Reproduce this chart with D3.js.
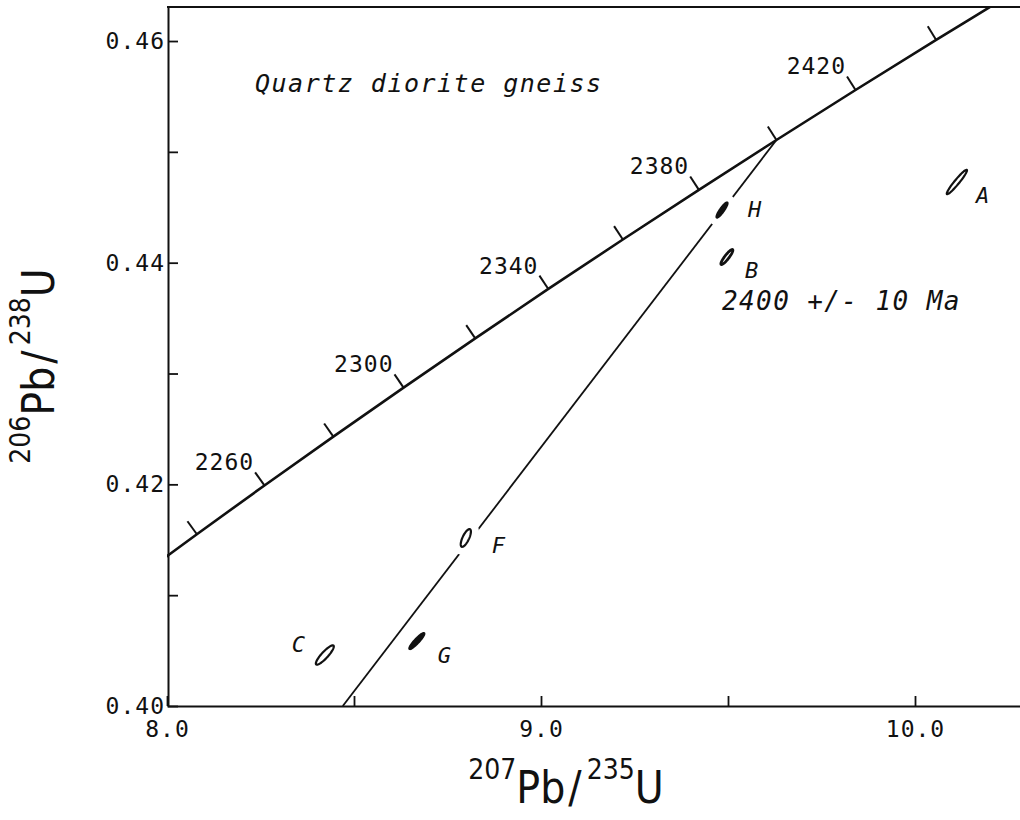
<!DOCTYPE html>
<html>
<head>
<meta charset="utf-8">
<script src="https://cdn.jsdelivr.net/npm/d3@7"></script>
<style>
  body { margin: 0; background: #fff; }
  .mono { font-family: "DejaVu Sans Mono", "Liberation Mono", monospace; }
  .narrow { font-family: "Liberation Sans Narrow", "DejaVu Sans Condensed", "Arial Narrow", "Liberation Sans", sans-serif; font-stretch: condensed; }
</style>
</head>
<body>
<div id="chart"></div>
<script>
// concordia: age (Ma) and the two ratios at that age
const concAge = [2220, 2240, 2260, 2280, 2300, 2320, 2340, 2360, 2380, 2400, 2420, 2440, 2460];
const concX = [7.9028, 8.0799, 8.2605, 8.4448, 8.6326, 8.8242, 9.0196, 9.2189, 9.4222, 9.6295, 9.8410, 10.0566, 10.2766];
const concY = [0.41111, 0.41550, 0.41990, 0.42431, 0.42873, 0.43317, 0.43763, 0.44209, 0.44657, 0.45107, 0.45558, 0.46010, 0.46464];
const concLabels = [2260, 2300, 2340, 2380, 2420];

// discordia (upper intercept -> bottom of the plot)
const discX = [9.6295, 8.470];
const discY = [0.45107, 0.400];

// zircon fractions, error ellipses
const fracName = ["A", "B", "C", "F", "G", "H"];
const fracX = [10.112, 9.497, 8.422, 8.799, 8.668, 9.484];
const fracY = [0.44728, 0.44051, 0.40460, 0.41516, 0.40586, 0.44475];
const fracSx = [0.027, 0.016, 0.024, 0.0136, 0.020, 0.0147];
const fracSy = [0.0011, 0.00068, 0.00087, 0.00080, 0.00072, 0.00068];
const fracRho = [0.955, 0.90, 0.88, 0.72, 0.92, 0.90];

const xTicks = [8.0, 9.0, 10.0];
const xMinor = [8.5, 9.5];
const yTicks = [0.40, 0.42, 0.44, 0.46];
const yMinor = [0.41, 0.43, 0.45];

const titleText = "Quartz diorite gneiss";
const ageText = "2400 +/- 10 Ma";

// ---------------------------------------------------------------
const W = 1020, H = 820;
const margin = {top: 7, left: 167, bottom: 114};

const svg = d3.select("#chart").append("svg")
  .attr("width", W).attr("height", H);

const x = d3.scaleLinear().domain([8.0, 10.3]).range([margin.left, margin.left + 2.3 * 374]);
const y = d3.scaleLinear().domain([0.40, 0.46307]).range([H - margin.bottom, margin.top]);

svg.append("defs").append("clipPath").attr("id", "plot")
  .append("rect")
  .attr("x", x(8.0)).attr("y", y(0.46307))
  .attr("width", x(10.3) - x(8.0)).attr("height", y(0.40) - y(0.46307));

// axes
const xAxis = svg.append("g")
  .attr("transform", "translate(0," + y(0.40) + ")")
  .call(d3.axisBottom(x)
    .tickValues(xTicks.concat(xMinor))
    .tickSizeInner(-10).tickSizeOuter(0).tickPadding(15)
    .tickFormat(d => xTicks.includes(d) ? d3.format(".1f")(d) : ""));

const yAxis = svg.append("g")
  .attr("transform", "translate(" + (x(8.0) + 1) + ",0)")
  .call(d3.axisLeft(y)
    .tickValues(yTicks.concat(yMinor))
    .tickSizeInner(-10).tickSizeOuter(0).tickPadding(3)
    .tickFormat(d => yTicks.includes(d) ? d3.format(".2f")(d) : ""));

[xAxis, yAxis].forEach(g => {
  g.attr("font-family", null).attr("font-size", null);
  g.select(".domain").attr("stroke", "#111").attr("stroke-width", 2);
  g.selectAll(".tick line").attr("stroke", "#111").attr("stroke-width", 1.8);
  g.selectAll("text").attr("class", "mono").attr("font-size", 23)
    .attr("letter-spacing", 1).attr("fill", "#111");
});

// top frame line
svg.append("line")
  .attr("x1", x(8.0)).attr("x2", W)
  .attr("y1", y(0.46307)).attr("y2", y(0.46307))
  .attr("stroke", "#111").attr("stroke-width", 2);

const plot = svg.append("g").attr("clip-path", "url(#plot)");

// concordia curve
const concPts = concAge.map((a, i) => [x(concX[i]), y(concY[i])]);
plot.append("path")
  .attr("d", d3.line().curve(d3.curveCatmullRom)(concPts))
  .attr("fill", "none").attr("stroke", "#111").attr("stroke-width", 2.6);

// age ticks on concordia, perpendicular to the curve, towards upper left
const tickLen = 16;
concAge.forEach((a, i) => {
  if (i === 0 || i === concAge.length - 1) return;
  const dx = concPts[i + 1][0] - concPts[i - 1][0];
  const dy = concPts[i + 1][1] - concPts[i - 1][1];
  const n = Math.hypot(dx, dy);
  const nx = dy / n, ny = -dx / n;
  const p = concPts[i];
  const e = [p[0] + nx * tickLen, p[1] + ny * tickLen];
  plot.append("line")
    .attr("x1", p[0]).attr("y1", p[1]).attr("x2", e[0]).attr("y2", e[1])
    .attr("stroke", "#111").attr("stroke-width", 2);
  if (concLabels.includes(a)) {
    svg.append("text").attr("class", "mono")
      .attr("x", e[0] - 1).attr("y", e[1] - 2)
      .attr("text-anchor", "end").attr("font-size", 23).attr("letter-spacing", 1)
      .attr("fill", "#111").text(a);
  }
});

// discordia
plot.append("line")
  .attr("x1", x(discX[0])).attr("y1", y(discY[0]))
  .attr("x2", x(discX[1])).attr("y2", y(discY[1]))
  .attr("stroke", "#111").attr("stroke-width", 1.8);

// error ellipses
const solid = ["G", "H"];
const labelOffset = {A: [19, 21], B: [18, 21], C: [-33, -3], F: [26, 15], G: [21, 22], H: [26, 7]};
const theta = d3.range(0, 2 * Math.PI, Math.PI / 36);
const ell = d3.line().curve(d3.curveLinearClosed);

fracName.forEach((nm, i) => {
  const r = fracRho[i], s = Math.sqrt(1 - r * r);
  const pts = theta.map(t => [
    x(fracX[i] + fracSx[i] * Math.cos(t)),
    y(fracY[i] + fracSy[i] * (r * Math.cos(t) + s * Math.sin(t)))
  ]);
  // white halo breaks the discordia around the ellipse
  plot.append("path").attr("d", ell(pts))
    .attr("fill", "#fff").attr("stroke", "#fff").attr("stroke-width", 16)
    .attr("stroke-linejoin", "round");
  plot.append("path").attr("d", ell(pts))
    .attr("fill", solid.includes(nm) ? "#111" : "#fff")
    .attr("stroke", "#111").attr("stroke-width", nm === "B" ? 2.8 : 2.2);
  const o = labelOffset[nm];
  svg.append("text").attr("class", "mono")
    .attr("x", x(fracX[i]) + o[0]).attr("y", y(fracY[i]) + o[1])
    .attr("font-size", 22).attr("font-style", "italic")
    .attr("fill", "#111").text(nm);
});

// texts
svg.append("text").attr("class", "mono")
  .attr("x", 255).attr("y", 92)
  .attr("font-size", 25).attr("font-style", "italic").attr("letter-spacing", 1.5)
  .attr("fill", "#111").text(titleText);

svg.append("text").attr("class", "mono")
  .attr("x", 722).attr("y", 310)
  .attr("font-size", 26).attr("font-style", "italic").attr("letter-spacing", 1.4)
  .attr("fill", "#111").text(ageText);

// axis titles
function ratioTitle(g, top, bottom, bottomMass) {
  const t = g.append("text").attr("class", "narrow").attr("fill", "#111")
    .attr("text-anchor", "middle");
  t.append("tspan").attr("font-size", 28).attr("dy", -24).text(top[0]);
  t.append("tspan").attr("font-size", 44).attr("dy", 24).text(top[1]);
  t.append("tspan").attr("font-size", 44).attr("dx", 3).text("/");
  t.append("tspan").attr("font-size", 28).attr("dy", -24).attr("dx", 5).text(bottomMass);
  t.append("tspan").attr("font-size", 44).attr("dy", 24).text(bottom);
  return t;
}

ratioTitle(svg.append("g").attr("transform", "translate(566,803)"), ["207", "Pb"], "U", "235");
ratioTitle(svg.append("g").attr("transform", "translate(54,366) rotate(-90)"), ["206", "Pb"], "U", "238");
</script>
</body>
</html>
